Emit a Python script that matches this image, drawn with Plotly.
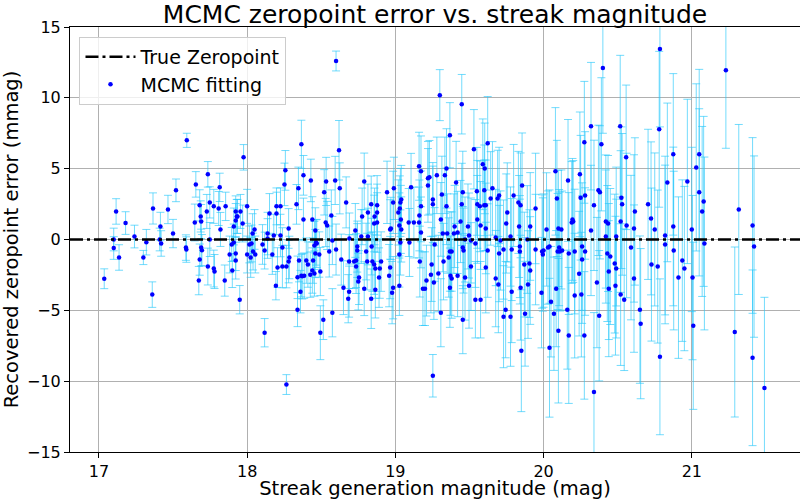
import plotly.graph_objects as go

# values
mag = [
    17.036, 17.10, 17.10, 17.116, 17.136, 17.18, 17.24, 17.30, 17.32, 17.36, 17.365, 17.41, 17.415, 17.42,
    17.466, 17.50, 17.52, 17.587, 17.59, 17.593, 17.647, 17.654, 17.674, 17.68, 17.68, 17.687, 17.69, 17.69,
    17.695, 17.728, 17.735, 17.735, 17.748, 17.748, 17.775, 17.775, 17.78, 17.808, 17.815, 17.82, 17.849,
    17.855, 17.882, 17.896, 17.90, 17.91, 17.91, 17.923, 17.923, 17.923, 17.923, 17.93, 17.935, 17.95,
    17.955, 17.97, 17.976, 18.0, 18.0,
    18.015, 18.024, 18.03, 18.037, 18.04, 18.05, 18.055, 18.104, 18.118, 18.118, 18.138, 18.138, 18.151,
    18.17, 18.18, 18.194, 18.198, 18.198, 18.205, 18.225, 18.225, 18.238, 18.238, 18.252, 18.258, 18.265,
    18.265, 18.28, 18.28, 18.285, 18.333, 18.34, 18.34, 18.346, 18.35, 18.36, 18.366, 18.366, 18.372, 18.38,
    18.38, 18.385, 18.399, 18.41, 18.426, 18.43, 18.44, 18.44, 18.445, 18.454, 18.454, 18.46, 18.46, 18.465,
    18.47, 18.487, 18.494, 18.494, 18.514, 18.52, 18.53, 18.533, 18.54, 18.554, 18.568, 18.575, 18.575,
    18.594, 18.6, 18.60, 18.62, 18.625, 18.635, 18.65, 18.668, 18.688, 18.688, 18.682, 18.69, 18.722, 18.73,
    18.735, 18.735, 18.743, 18.743, 18.75, 18.755, 18.77, 18.776, 18.79, 18.79, 18.803, 18.81, 18.815,
    18.815, 18.837, 18.837, 18.84, 18.845, 18.857, 18.857, 18.86, 18.865, 18.865, 18.877, 18.877, 18.877,
    18.89, 18.895, 18.904, 18.944, 18.958, 18.965, 18.965, 18.97, 18.978, 18.985, 18.985, 18.99,
    19.02, 19.027, 19.027, 19.027, 19.03, 19.034, 19.034, 19.037, 19.04, 19.04, 19.09, 19.095, 19.106,
    19.125, 19.16, 19.16, 19.162, 19.165, 19.173, 19.173, 19.173, 19.186, 19.2, 19.21, 19.22, 19.22, 19.23,
    19.24, 19.245, 19.253, 19.253, 19.253, 19.26, 19.265, 19.28, 19.29, 19.307, 19.307, 19.314, 19.30,
    19.32, 19.325, 19.334, 19.345, 19.345, 19.35, 19.36, 19.368, 19.368, 19.368, 19.372, 19.38, 19.38,
    19.395, 19.40, 19.41, 19.42, 19.42, 19.44, 19.448, 19.448, 19.455, 19.455, 19.455, 19.46, 19.47, 19.47,
    19.49, 19.497, 19.497, 19.51, 19.51, 19.53, 19.54, 19.54, 19.55, 19.553, 19.553, 19.57, 19.575, 19.575,
    19.59, 19.6, 19.6, 19.603, 19.61, 19.61, 19.61, 19.623, 19.623, 19.643, 19.655, 19.677, 19.677, 19.69,
    19.695, 19.70, 19.70, 19.71, 19.73, 19.73, 19.744, 19.748, 19.755, 19.777, 19.777, 19.785, 19.785,
    19.798, 19.83, 19.835, 19.84, 19.84, 19.845, 19.845, 19.85, 19.855, 19.87, 19.875, 19.89, 19.895,
    19.905, 19.91, 19.91, 19.946, 19.946, 19.986, 19.99, 19.995, 20.0, 20.02,
    20.03, 20.04, 20.04, 20.05, 20.07, 20.08, 20.085, 20.09, 20.095, 20.1, 20.1, 20.105, 20.11, 20.12,
    20.125, 20.16, 20.165, 20.17, 20.17, 20.19, 20.195, 20.2, 20.21, 20.21, 20.24, 20.245, 20.25, 20.255,
    20.26, 20.26, 20.275, 20.275, 20.28, 20.28, 20.32, 20.32, 20.34, 20.34, 20.36, 20.37, 20.375, 20.38,
    20.39, 20.40, 20.42, 20.42, 20.43, 20.435, 20.44, 20.44, 20.45, 20.48, 20.485, 20.49, 20.49, 20.517,
    20.52, 20.52, 20.525, 20.53, 20.544, 20.557, 20.56, 20.59, 20.61, 20.61, 20.616, 20.65, 20.655, 20.705,
    20.725, 20.728, 20.75, 20.77, 20.78, 20.785, 20.785, 20.82, 20.82, 20.835, 20.875, 20.875, 20.878,
    20.91, 20.936, 20.95, 20.97, 21.0, 21.005, 21.01, 21.03,
    21.05, 21.05, 21.07, 21.08, 21.085, 21.23, 21.29, 21.317, 21.41, 21.41, 21.42, 21.49,
]

zp_err = [
    -2.77, 0.0, -0.6, 1.98, -1.27, 1.16, 0.21, -1.27, -0.19, -3.89, 2.19, 0.0, 0.92, -0.28,
    2.12, 0.42, 3.47, -0.57, -0.71, 7.0, 1.2, 3.89, -2.9, 2.41, -1.42, 1.63, 1.27, -0.57,
    -0.75, 1.98, 4.6, -1.91, 2.62, 0.0, 2.34, -2.05, -2.26, 2.19, 3.68, 0.71, -2.9,
    2.34, -1.06, -0.35, -2.19, 0.92, -0.21, 1.98, 1.34, -0.99, -1.49, 1.63, 1.63, -4.25,
    1.98, 1.13, 5.8, -1.06, 2.34,
    -0.35, -1.27, -0.28, 0.42, -0.85, 0.71, -1.06, -0.35, -6.58, -0.78, 0.42, 0.07, 1.84,
    -1.06, 0.28, -3.26, 1.84, 2.34, -1.98, 2.34, 0.28, -0.57, -1.91, 3.89, 4.88, -1.91,
    -10.24, 0.78, -1.56, -1.27, 2.48, -2.67, -4.95, 3.61, -1.49, -3.68, 6.72, -2.55, -2.6, 4.53,
    1.42, -2.55, -1.49, -1.77, -2.48, 4.17, 1.42, -2.19, -1.49, -0.42, -2.4, 0.64, -0.99, -0.21,
    -0.28, -1.06, -6.58, -2.26, -5.66, 3.33, 1.2, 4.1, 0.99, -0.85, 1.7, -0.07, -5.17,
    4.17, -0.71, 12.6, 6.3, 3.61, -1.42, -3.4, 2.62, -1.56, -3.68, -4.18, 0.07, -1.56, 0.64,
    -1.91, -1.49, -0.5, -0.78, -2.97, -2.69, 0.21, 1.63, 4.1, -3.47, -0.85, -1.56, 1.91,
    0.21, 2.48, -4.18, -0.5, -1.56, 1.13, -1.77, 1.63, -2.05, -3.54, 2.41, 1.2, 1.91,
    -2.69, -2.05, -1.56, 3.33, -2.55, -1.98, 0.71, 0.78, -3.75, 2.62, -3.4, 3.61,
    1.91, -3.26, -1.06, 0.99, 2.19, 2.62, -0.21, 1.42, 2.83, 0.71, 1.2, -0.21, 3.68,
    1.2, 5.17, 1.2, 1.7, -1.56, 4.81, 2.34, 0.5, -3.47, -3.47, -2.9, 4.32, 3.82, 4.39,
    -2.48, -1.77, 2.83, 2.48, -9.62, -3.04, -0.35, 4.53, -2.4, 1.42, -5.17, 3.18, 10.19,
    0.42, -1.56, 4.53, 5.02, 2.34, 0.42, -1.27, 7.36, -0.85, -3.4, -2.55, -0.85, -2.76,
    0.42, 0.92, 4.03, 0.5, -2.55, 1.27, 9.55, 2.48, 3.33, -5.66, -0.57, -0.78, -2.69, 0.0,
    0.92, 0.28, -3.26, -1.91, -0.07, 6.37, -0.28, -4.25, 3.4, 1.42, 2.48, 2.34, -4.25, 0.99,
    5.31, 3.47, 2.41, 5.02, 2.41, 0.78, -1.98, 6.79, -0.78, 2.9, 3.61, -2.76, 0.14, 2.9,
    -3.18, 3.11, -0.99, -0.07, -0.71, -5.45, -4.95, 1.13, 1.91, -5.45, 0.21, -0.71, -3.68,
    3.11, 2.62, 0.92, -0.5, -0.85, 2.41, -3.4, -7.85, 3.82, -1.77, -5.24, 0.0, -3.18,
    -1.70, 0.92, -2.19, 2.19, -0.71, -3.75, -0.85, -1.06, -0.78, 0.71,
    -0.57, -0.5, -7.64, -4.39, -5.24, 4.81, -3.47, 2.9, -0.85, 0.78, -6.44, -0.57, -0.85, 0.71,
    -0.78, -4.95, 4.17, -0.99, -6.77, 1.2, 1.42, 1.27, -3.96, -0.85, -2.41, 4.6, 2.95, -3.89,
    -0.5, -1.42, 6.86, -6.77, 3.11, -0.85, 8.0, 0.64, -10.76, 2.41, -3.04, 3.47, -5.38, 3.33,
    6.72, 12.1, 1.27, 0.21, -0.99, 1.13, -2.26, -3.47, -1.2, -1.7, -3.26, -2.05, 0.21, 8.0,
    1.27, -3.89, 2.95, 2.48, -4.25, 5.8, 0.99, -0.57, 0.78, -2.76, 1.98, -4.95, -5.94, 2.48,
    1.49, -1.77, 0.71, -1.91, 7.78, 13.45, -8.28, -0.35, 0.28, 4.03, 6.01, 0.92, -0.78,
    -2.69, -1.49, -2.05, 4.1, 0.71, -2.69, -6.09, 5.09,
    6.01, 3.33, 1.98, 2.69, -0.28, 11.94, -6.53, 2.12, 0.99, -8.35, -0.5, -10.48,
]

zp_sigma = [
    0.7, 0.8, 0.8, 0.9, 0.9, 0.8, 0.8, 0.5, 0.9, 0.9, 1.1, 0.8, 1.0, 0.9,
    1.0, 1.0, 0.8, 0.9, 0.9, 0.5, 1.3, 0.9, 1.0, 1.1, 1.1, 1.1, 1.2, 1.3,
    1.1, 1.2, 0.9, 1.3, 1.1, 1.2, 1.2, 1.3, 1.2, 1.2, 1.0, 1.2, 1.1,
    1.0, 1.3, 1.2, 1.2, 1.3, 1.3, 1.1, 1.2, 1.2, 1.3, 1.2, 1.2, 1.0,
    1.2, 1.3, 0.9, 1.3, 1.2,
    1.3, 1.4, 1.3, 1.4, 1.3, 1.4, 1.3, 1.4, 1.0, 1.3, 1.5, 1.4, 1.4,
    1.4, 1.5, 1.0, 1.5, 1.3, 1.4, 1.3, 1.5, 1.4, 1.5, 1.5, 1.4, 1.5,
    0.7, 1.4, 1.5, 1.5, 1.4, 1.5, 1.2, 1.5, 1.5, 1.5, 1.7, 1.5, 1.6, 1.4,
    1.5, 1.6, 1.6, 1.6, 1.6, 1.5, 1.6, 1.6, 1.6, 1.7, 1.6, 1.6, 1.7, 1.6,
    1.7, 1.6, 1.9, 1.7, 1.4, 1.6, 1.7, 1.7, 1.7, 1.8, 1.8, 1.7, 1.7,
    1.7, 1.8, 0.7, 2.1, 1.8, 1.8, 1.9, 1.8, 1.9, 1.8, 1.7, 1.8, 1.9, 1.9,
    1.9, 1.9, 1.8, 1.9, 2.0, 1.9, 1.9, 2.0, 2.0, 1.9, 2.0, 2.0, 2.0,
    2.0, 2.0, 2.1, 2.0, 2.1, 2.0, 2.1, 2.0, 2.1, 2.0, 2.1, 2.1, 2.0,
    2.1, 2.1, 2.1, 2.2, 2.2, 2.2, 2.1, 2.2, 2.2, 2.2, 2.2, 2.2,
    2.3, 2.1, 2.3, 2.3, 2.3, 2.4, 2.3, 2.4, 2.4, 2.3, 2.4, 2.4, 2.4,
    2.5, 2.4, 2.5, 2.5, 2.5, 2.5, 2.5, 2.5, 2.6, 2.6, 2.5, 2.6, 2.6, 2.6,
    2.7, 2.6, 2.6, 2.7, 1.5, 2.6, 2.6, 2.7, 2.7, 2.6, 2.4, 2.7, 1.8,
    2.7, 2.7, 2.7, 2.8, 2.7, 2.8, 2.8, 2.3, 2.8, 2.8, 2.8, 2.8, 2.8,
    2.8, 2.9, 2.9, 2.9, 2.9, 2.9, 2.1, 2.9, 2.9, 2.4, 2.9, 3.0, 3.0, 3.0,
    3.0, 3.0, 3.0, 3.1, 3.0, 2.8, 3.1, 2.7, 3.1, 3.1, 3.1, 3.2, 2.7, 3.1,
    3.2, 3.2, 3.2, 3.2, 3.2, 3.2, 3.2, 3.3, 3.3, 3.3, 3.3, 3.4, 3.4, 3.4,
    3.4, 3.4, 3.4, 3.5, 3.5, 3.6, 3.4, 3.5, 3.5, 3.5, 3.5, 3.6, 3.6,
    3.6, 3.6, 3.6, 3.6, 3.7, 3.7, 3.7, 4.3, 3.7, 3.7, 3.7, 3.8, 3.8,
    3.8, 3.8, 3.8, 3.9, 3.9, 3.9, 4.0, 4.0, 4.0, 4.0,
    4.0, 4.0, 4.9, 3.9, 4.0, 4.5, 4.1, 4.1, 4.1, 4.1, 5.1, 4.1, 4.2, 4.2,
    4.2, 4.2, 4.3, 4.3, 4.8, 4.3, 4.3, 4.3, 4.4, 4.4, 4.4, 4.4, 4.4, 4.4,
    4.5, 4.5, 4.3, 4.5, 4.5, 4.5, 4.5, 4.6, 5.6, 4.6, 4.6, 4.6, 4.6, 4.7,
    4.7, 4.6, 4.7, 4.7, 4.8, 4.8, 4.8, 4.8, 4.8, 4.9, 4.9, 4.9, 4.9, 5.0,
    5.0, 5.0, 5.0, 5.0, 5.0, 5.1, 5.1, 5.1, 5.2, 5.2, 5.2, 5.2, 5.3, 5.3,
    5.4, 5.4, 5.4, 5.4, 5.5, 5.5, 5.5, 5.6, 5.6, 5.6, 5.7, 5.6, 5.6,
    5.7, 5.7, 5.8, 5.8, 5.8, 5.8, 5.9, 5.9,
    6.0, 5.9, 6.0, 6.0, 6.1, 5.5, 6.0, 6.0, 6.2, 6.2, 6.4, 6.4,
]

true_zp = 0.0
x_range = [16.805, 21.73]
y_range = [-15, 15]
x_ticks = [17, 18, 19, 20, 21]
y_ticks = [-15, -10, -5, 0, 5, 10, 15]

fig = go.Figure()

# error bars + points
fig.add_trace(go.Scatter(
    x=mag, y=zp_err, mode="markers", name="MCMC fitting",
    marker=dict(color="blue", size=4.5),
    error_y=dict(type="data", array=zp_sigma, visible=True,
                 color="rgba(40,200,250,0.65)", thickness=1, width=4),
))

# true zeropoint, drawn across the whole axis
fig.add_trace(go.Scatter(
    x=x_range, y=[true_zp, true_zp], mode="lines", name="True Zeropoint",
    line=dict(color="black", width=2.5, dash="13px,4px,3px,4px"),
))

fig.update_layout(
    width=800, height=500,
    paper_bgcolor="white", plot_bgcolor="white",
    font=dict(family="DejaVu Sans", color="black"),
    margin=dict(l=70, r=0, t=27, b=48, autoexpand=False),
    title=dict(text="MCMC zeropoint error vs. streak magnitude", x=0.5, xref="paper",
               y=0.972, yref="container", yanchor="middle", font=dict(size=25), automargin=False),
    showlegend=True,
    legend=dict(x=0.013, y=0.977, xanchor="left", yanchor="top", traceorder="reversed",
                bgcolor="rgba(255,255,255,0.8)", bordercolor="#cccccc", borderwidth=1,
                font=dict(size=19), itemwidth=50, tracegroupgap=4),
)

fig.update_xaxes(range=x_range, tickvals=x_ticks, showgrid=True, gridcolor="#b0b0b0", gridwidth=1,
                 showline=True, linecolor="black", linewidth=1, mirror=True, zeroline=False,
                 ticks="outside", ticklen=5, tickcolor="black", tickfont=dict(size=16), automargin=False,
                 title=dict(text="Streak generation magnitude (mag)", font=dict(size=19.5), standoff=6))
fig.update_yaxes(range=y_range, tickvals=y_ticks, showgrid=True, gridcolor="#b0b0b0", gridwidth=1,
                 showline=True, linecolor="black", linewidth=1, mirror=True, zeroline=False,
                 ticks="outside", ticklen=5, tickcolor="black", tickfont=dict(size=16), automargin=False,
                 title=dict(text="Recovered zeropoint error (mmag)", font=dict(size=19.5), standoff=4))

# drop the page's default body margin so the figure sits at the window's corner
fig.write_html("out.html", config={"displayModeBar": False},
               post_script="document.body.style.margin='0px';")
